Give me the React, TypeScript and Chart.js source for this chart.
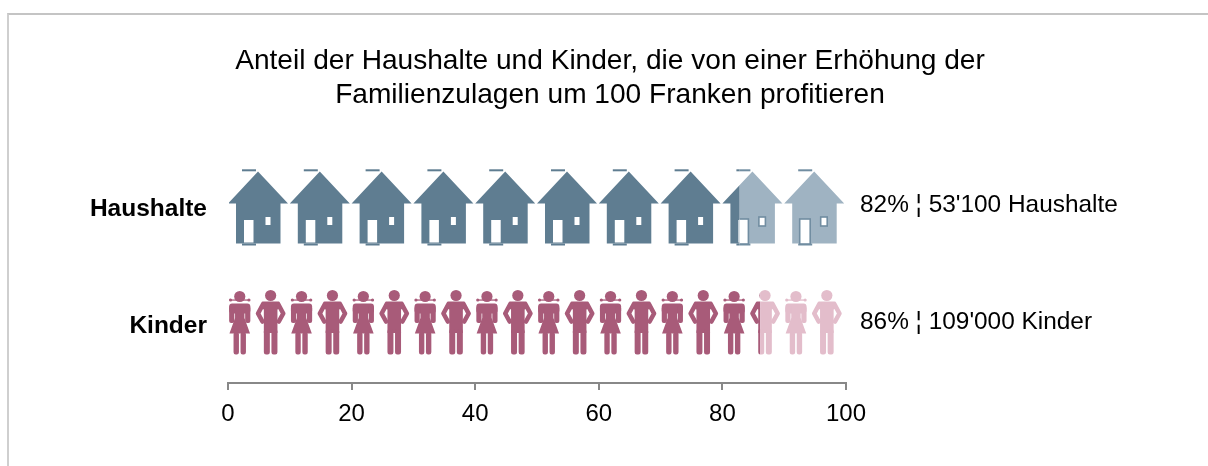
import React, { useEffect, useRef } from "react";
import { Chart, registerables } from "chart.js";

Chart.register(...registerables);

const categories = ["Haushalte", "Kinder"];
const coveredValues = [82.8, 86.1];
const remainingValues = [17.2, 13.9];
const rowNotes = ["82% ¦ 53'100 Haushalte", "86% ¦ 109'000 Kinder"];
const titleLines = [
  "Anteil der Haushalte und Kinder, die von einer Erhöhung der",
  "Familienzulagen um 100 Franken profitieren",
];
const xTicks = [0, 20, 40, 60, 80, 100];
const houseColors = ["#5f7d91", "#9fb3c2"];
const personColors = ["#a85b79", "#e3bdcb"];
const FONT = '"Liberation Sans", Arial, sans-serif';
const TEXT = "#000000";

type C = CanvasRenderingContext2D;

function drawHouse(ctx: C, x0: number, cy: number, color: number) {
  const fill = houseColors[color];
  ctx.save();
  ctx.translate(x0, cy);
  ctx.fillStyle = fill;
  ctx.beginPath();
  ctx.moveTo(30, -36);
  ctx.lineTo(60, -4);
  ctx.lineTo(52.5, -4);
  ctx.lineTo(52.5, 36);
  ctx.lineTo(8, 36);
  ctx.lineTo(8, -4);
  ctx.lineTo(0, -4);
  ctx.closePath();
  ctx.fill();
  ctx.fillStyle = color === 1 ? "#718da1" : fill;
  ctx.fillRect(14, -38.2, 14, 2);
  ctx.fillRect(14, 36, 14, 2);
  ctx.fillStyle = "#ffffff";
  if (color === 1) {
    ctx.strokeStyle = "#718da1";
    ctx.lineWidth = 1.6;
    ctx.fillRect(15.5, 11.5, 10.5, 25);
    ctx.strokeRect(15.5, 11.5, 10.5, 25);
    ctx.fillRect(36.5, 9.5, 6.5, 9);
    ctx.strokeRect(36.5, 9.5, 6.5, 9);
  } else {
    ctx.fillRect(16, 12.5, 9.5, 22.5);
    ctx.fillRect(37.5, 9.5, 5, 8);
  }
  ctx.restore();
}

function drawGirl(ctx: C, cx: number, cy: number) {
  ctx.beginPath();
  ctx.arc(cx, cy - 27.5, 5.6, 0, Math.PI * 2);
  ctx.fill();
  ctx.fillRect(cx - 9.5, cy - 24.6, 19, 1.3);
  ctx.beginPath();
  ctx.arc(cx - 9.2, cy - 24, 1.6, 0, Math.PI * 2);
  ctx.arc(cx + 9.2, cy - 24, 1.6, 0, Math.PI * 2);
  ctx.fill();
  ctx.beginPath();
  ctx.roundRect(cx - 10.6, cy - 20.5, 21.2, 10, 3);
  ctx.fill();
  ctx.beginPath();
  ctx.roundRect(cx - 10.6, cy - 18, 5.2, 17, 2);
  ctx.roundRect(cx + 5.4, cy - 18, 5.2, 17, 2);
  ctx.fill();
  ctx.beginPath();
  ctx.moveTo(cx - 4.7, cy - 18);
  ctx.lineTo(cx + 4.7, cy - 18);
  ctx.lineTo(cx + 4.7, cy - 6);
  ctx.lineTo(cx + 10.3, cy + 9.5);
  ctx.lineTo(cx - 10.3, cy + 9.5);
  ctx.lineTo(cx - 4.7, cy - 6);
  ctx.closePath();
  ctx.fill();
  ctx.beginPath();
  ctx.roundRect(cx - 6.2, cy + 8, 5.4, 22.5, 2.2);
  ctx.roundRect(cx + 0.8, cy + 8, 5.4, 22.5, 2.2);
  ctx.fill();
}

function drawBoy(ctx: C, cx: number, cy: number) {
  ctx.beginPath();
  ctx.arc(cx, cy - 28.5, 5.6, 0, Math.PI * 2);
  ctx.fill();
  ctx.beginPath();
  ctx.roundRect(cx - 8.5, cy - 22.5, 17, 8, 2);
  ctx.fill();
  ctx.fillRect(cx - 6.8, cy - 16, 13.6, 25);
  ctx.beginPath();
  ctx.roundRect(cx - 6.8, cy + 5, 6, 25.5, 2.2);
  ctx.roundRect(cx + 0.8, cy + 5, 6, 25.5, 2.2);
  ctx.fill();
  ctx.lineWidth = 4.6;
  ctx.lineCap = "round";
  ctx.lineJoin = "round";
  ctx.strokeStyle = ctx.fillStyle;
  for (const s of [-1, 1]) {
    ctx.beginPath();
    ctx.moveTo(cx + s * 7.5, cy - 20);
    ctx.lineTo(cx + s * 12.6, cy - 10.5);
    ctx.lineTo(cx + s * 8.2, cy - 2.5);
    ctx.stroke();
  }
}

const pictogramPlugin = {
  id: "pictogram",
  afterDatasetsDraw(chart: any) {
    const { ctx } = chart;
    const xs = chart.scales.x;
    const unitX = (v: number) => xs.getPixelForValue(v);
    [0, 1].forEach((dsIndex) => {
      const meta = chart.getDatasetMeta(dsIndex);
      meta.data.forEach((bar: any, row: number) => {
        ctx.save();
        ctx.beginPath();
        ctx.rect(bar.base, bar.y - bar.height / 2, bar.x - bar.base, bar.height);
        ctx.clip();
        if (row === 0) {
          for (const v of [0, 10, 20, 30, 40, 50, 60, 70, 80, 90]) {
            drawHouse(ctx, unitX(v), bar.y, dsIndex);
          }
        } else {
          ctx.fillStyle = personColors[dsIndex];
          for (const v of [0, 10, 20, 30, 40, 50, 60, 70, 80, 90]) {
            drawGirl(ctx, unitX(v + 1.9), bar.y - 0.5);
            drawBoy(ctx, unitX(v + 6.9), bar.y - 0.5);
          }
        }
        ctx.restore();
      });
    });
    const first = chart.getDatasetMeta(0);
    ctx.save();
    ctx.font = `24.4px ${FONT}`;
    ctx.fillStyle = TEXT;
    ctx.textBaseline = "middle";
    ctx.textAlign = "left";
    first.data.forEach((bar: any, row: number) => {
      ctx.fillText(rowNotes[row], xs.right + 14, bar.y - 2.5);
    });
    ctx.restore();
  },
};

export default function App() {
  const ref = useRef<HTMLCanvasElement>(null);
  useEffect(() => {
    document.body.style.margin = "0";
    document.body.style.overflow = "hidden";
    const chart = new Chart(ref.current!, {
      type: "bar",
      data: {
        labels: categories,
        datasets: [
          { label: "Betroffen", data: coveredValues, backgroundColor: "transparent", barThickness: 84 },
          { label: "Übrige", data: remainingValues, backgroundColor: "transparent", barThickness: 84 },
        ],
      },
      options: {
        indexAxis: "y",
        responsive: false,
        animation: false,
        layout: { padding: 0 },
        plugins: {
          legend: { display: false },
          tooltip: { enabled: false },
          title: {
            display: true,
            text: titleLines,
            color: TEXT,
            font: { family: FONT, size: 28.1, weight: "normal", lineHeight: 1.21 },
            padding: { top: 44, bottom: 37 },
          },
        },
        scales: {
          x: {
            stacked: true,
            min: 0,
            max: 100,
            afterBuildTicks: (s: any) => {
              s.ticks = xTicks.map((value) => ({ value }));
            },
            afterFit: (s: any) => {
              s.height = 83;
            },
            grid: { drawOnChartArea: false, drawTicks: true, tickLength: 7, color: "#888888", lineWidth: 2 },
            border: { display: true, color: "#888888", width: 2 },
            ticks: { color: TEXT, font: { family: FONT, size: 24 }, padding: 10, maxRotation: 0 },
          },
          y: {
            stacked: true,
            afterFit: (s: any) => {
              s.width = 216;
            },
            grid: { display: false, drawTicks: false },
            border: { display: false },
            ticks: { color: TEXT, font: { family: FONT, size: 24.5, weight: "bold" }, padding: 21, labelOffset: 2 },
          },
          notesGutter: {
            type: "linear",
            axis: "y",
            position: "right",
            display: true,
            afterFit: (s: any) => {
              s.width = 362;
            },
            grid: { display: false, drawTicks: false },
            border: { display: false },
            ticks: { display: false },
          },
        },
      } as any,
      plugins: [pictogramPlugin],
    });
    return () => chart.destroy();
  }, []);
  return (
    <div style={{ position: "absolute", left: 0, top: 0, width: 1208, height: 466, overflow: "hidden", background: "#fff" }}>
      <div style={{ position: "absolute", left: 7, top: 13, width: 1201, height: 453, borderLeft: "2px solid #cfcfcf", borderTop: "2px solid #c4c4c4", boxSizing: "border-box" }} />
      <canvas ref={ref} width={1196} height={466} style={{ position: "absolute", left: 12, top: 0, display: "block" }} />
    </div>
  );
}
